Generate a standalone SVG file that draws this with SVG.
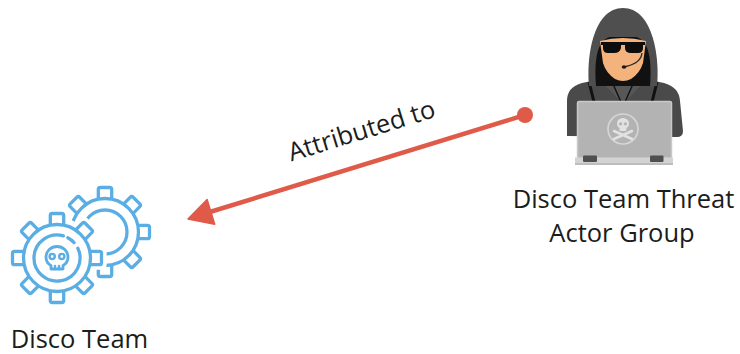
<svg xmlns="http://www.w3.org/2000/svg" xmlns:xlink="http://www.w3.org/1999/xlink" width="740" height="354" viewBox="0 0 740 354">
  <style>
    .label { font-family: "Open Sans", "Liberation Sans", sans-serif; font-size: 25.5px; fill: #1c1c1c; }
    .ico { fill: none; stroke: #5BAEE4; stroke-width: 3.3; stroke-linecap: round; stroke-linejoin: round; }
    .edge { stroke: #E05A49; stroke-width: 4.5; fill: none; }
  </style>
  <defs>
    <!-- one gear tooth, pointing up from a ring of radius 33.5 -->
    <path id="tooth" d="M-6.7,-33.5 V-42.5 Q-6.7,-44.5 -4.7,-44.5 H4.7 Q6.7,-44.5 6.7,-42.5 V-33.5"/>
    <g id="gear">
      <circle r="33.5"/>
      <use xlink:href="#tooth"/>
      <use xlink:href="#tooth" transform="rotate(45)"/>
      <use xlink:href="#tooth" transform="rotate(90)"/>
      <use xlink:href="#tooth" transform="rotate(135)"/>
      <use xlink:href="#tooth" transform="rotate(180)"/>
      <use xlink:href="#tooth" transform="rotate(225)"/>
      <use xlink:href="#tooth" transform="rotate(270)"/>
      <use xlink:href="#tooth" transform="rotate(315)"/>
    </g>
    <!-- footprint of the front gear, with clearance, used to cut the rear gear -->
    <g id="gear-footprint" fill="#000" stroke="#000" stroke-width="10.3" stroke-linejoin="round">
      <circle r="35"/>
      <rect x="-6.7" y="-44.5" width="13.4" height="12"/>
      <rect x="-6.7" y="-44.5" width="13.4" height="12" transform="rotate(45)"/>
      <rect x="-6.7" y="-44.5" width="13.4" height="12" transform="rotate(90)"/>
      <rect x="-6.7" y="-44.5" width="13.4" height="12" transform="rotate(135)"/>
      <rect x="-6.7" y="-44.5" width="13.4" height="12" transform="rotate(180)"/>
      <rect x="-6.7" y="-44.5" width="13.4" height="12" transform="rotate(225)"/>
      <rect x="-6.7" y="-44.5" width="13.4" height="12" transform="rotate(270)"/>
      <rect x="-6.7" y="-44.5" width="13.4" height="12" transform="rotate(315)"/>
    </g>
    <mask id="rear-cut" maskUnits="userSpaceOnUse" x="0" y="150" width="200" height="180">
      <rect x="0" y="150" width="200" height="180" fill="#fff"/>
      <use xlink:href="#gear-footprint" transform="translate(57,258)"/>
    </mask>
  </defs>

  <!-- connector: threat actor -> Disco Team -->
  <g id="connectors">
    <g id="edge-attributed">
      <line class="edge" x1="525" y1="115" x2="205" y2="213.5"/>
      <circle cx="525" cy="115" r="8" fill="#E05A49"/>
      <polygon points="188,219 207.1,199.5 214.7,224.3" fill="#E05A49" stroke="#E05A49" stroke-width="1.5" stroke-linejoin="round"/>
      <text class="label" x="364" y="139" text-anchor="middle" transform="rotate(-17.1 364 139)">Attributed to</text>
    </g>
  </g>

  <!-- Disco Team: gears with skull -->
  <g id="node-disco-team">
    <g class="ico">
      <g mask="url(#rear-cut)">
        <use xlink:href="#gear" transform="translate(105,232)"/>
        <circle cx="105" cy="232" r="22"/>
      </g>
      <g transform="translate(57,258)">
        <use xlink:href="#gear"/>
        <path d="M20.85,-9.72 A23,23 0 1 1 6.34,-22.11"/>
        <path d="M10.8,-20.31 A23,23 0 0 1 17.09,-15.39"/>
        <!-- skull -->
        <path d="M-6,11 V7.5 Q-11,5 -11,-1 A11,10.5 0 0 1 11,-1 Q11,5 6,7.5 V11 Z" stroke-width="2.8"/>
        <path d="M-2,8 V11 M2,8 V11" stroke-width="2.4"/>
        <circle cx="-4.8" cy="-1.5" r="2.6" stroke-width="2.4"/>
        <circle cx="4.8" cy="-1.5" r="2.6" stroke-width="2.4"/>
      </g>
    </g>
    <text class="label" x="79.5" y="348" text-anchor="middle">Disco Team</text>
  </g>

  <!-- Disco Team Threat Actor Group: hooded figure at a laptop -->
  <g id="node-threat-actor">
    <!-- torso -->
    <path d="M567,136 V101 Q567,87 582,83 L606,78 H640 L664,83 Q679,87 680,101 L683,131 Q683,137 677,137 Z" fill="#4A4A4A"/>
    <path d="M600,80 L623,104 L646,80 Z" fill="#575757"/>
    <path d="M589,82 L594,102 M657,82 L652,102" stroke="#111" stroke-width="3"/>
    <!-- neck -->
    <rect x="613" y="70" width="20" height="16" fill="#E9A56F"/>
    <path d="M613,84 L621,102 M633,84 L625,102" stroke="#111" stroke-width="1.4"/>
    <!-- hood -->
    <path d="M589,86 C586,55 594,8 623,8 C652,8 660,55 657,86 Z" fill="#4F4F4F"/>
    <path d="M596,86 C594,60 597,40 610,37 H636 C649,40 652,60 650,86 Z" fill="#111"/>
    <!-- face -->
    <path d="M600,41 Q623,35 646,41 L643,63 Q640,73 631,79 Q623,83 615,79 Q606,73 603,63 Z" fill="#F4B27C"/>
    <!-- sunglasses -->
    <path d="M601,42 H645 V45 H601 Z" fill="#0d0d0d"/>
    <path d="M603,43 H621 V48 Q620,53 614,53 H608 Q603,53 603,48 Z" fill="#0d0d0d"/>
    <path d="M625,43 H643 V48 Q643,53 638,53 H631 Q625,53 625,48 Z" fill="#0d0d0d"/>
    <!-- headset microphone -->
    <path d="M642,53 Q641,63 626,66.5" stroke="#2a2a2a" stroke-width="1.3" fill="none"/>
    <ellipse cx="624" cy="67" rx="2.3" ry="1.8" fill="#1a1a1a"/>
    <!-- laptop -->
    <rect x="577.5" y="101.5" width="94" height="57" rx="1.5" fill="#B3B3B3" stroke="#C9C9C9" stroke-width="1.5"/>
    <rect x="575" y="157.5" width="98" height="7" fill="#D3D3D3"/>
    <rect x="575" y="163" width="98" height="2" fill="#BDBDBD"/>
    <rect x="583" y="155.5" width="14" height="6.5" rx="1" fill="#4F4F4F"/>
    <rect x="650" y="155.5" width="13.5" height="6.5" rx="1" fill="#4F4F4F"/>
    <!-- skull and crossbones on the lid -->
    <circle cx="623" cy="129" r="15" fill="none" stroke="#D6D6D6" stroke-width="1.6"/>
    <path d="M614,131 L632,139 M632,131 L614,139" stroke="#E2E2E2" stroke-width="2.6" stroke-linecap="round"/>
    <ellipse cx="623" cy="123.5" rx="6" ry="5.5" fill="#E2E2E2"/>
    <rect x="619.5" y="126" width="7" height="5" rx="1" fill="#E2E2E2"/>
    <circle cx="620.6" cy="123.8" r="1.6" fill="#B3B3B3"/>
    <circle cx="625.4" cy="123.8" r="1.6" fill="#B3B3B3"/>
    <text class="label" x="623.5" y="208" text-anchor="middle">Disco Team Threat</text>
    <text class="label" x="622" y="242" text-anchor="middle">Actor Group</text>
  </g>
</svg>
